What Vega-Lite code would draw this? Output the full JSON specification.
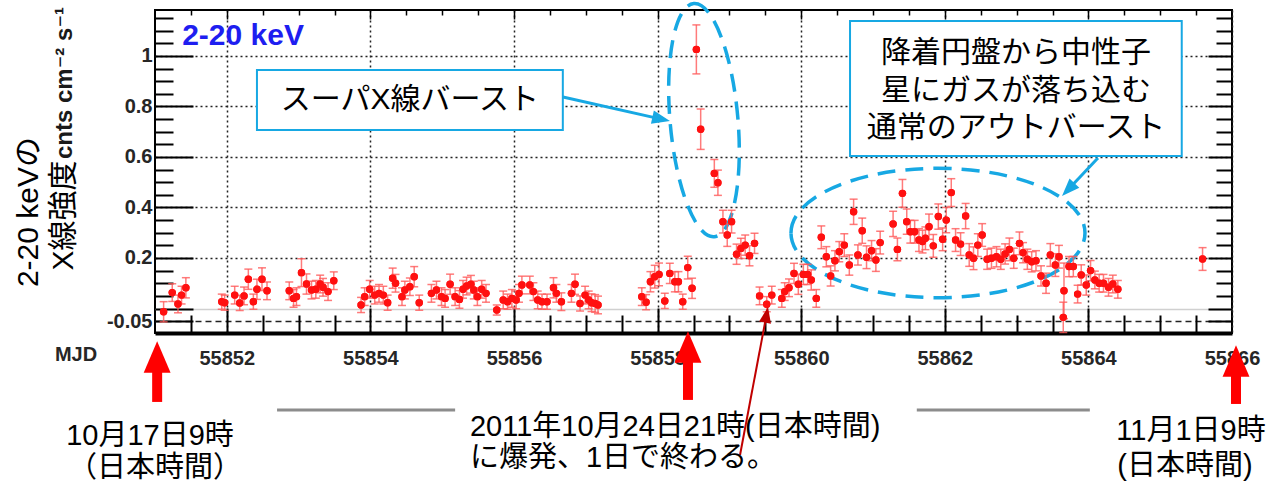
{
"$schema":"https://vega.github.io/schema/vega-lite/v6.json",
"width":1077,"height":323,
"autosize":{"type":"none"},
"padding":{"left":155,"top":10,"right":41,"bottom":150},
"background":"#ffffff",
"config":{"view":{"stroke":"#000000","strokeWidth":2}},
"datasets":{
"pts":[
{"t":55851.12,"f":-0.013,"e":0.04},{"t":55851.24,"f":0.063,"e":0.035},{"t":55851.32,"f":0.018,"e":0.035},{"t":55851.37,"f":0.053,"e":0.035},{"t":55851.43,"f":0.082,"e":0.04},
{"t":55851.93,"f":0.027,"e":0.03},{"t":55851.97,"f":0.023,"e":0.03},{"t":55852.11,"f":0.053,"e":0.035},{"t":55852.18,"f":0.022,"e":0.03},{"t":55852.24,"f":0.05,"e":0.035},{"t":55852.30,"f":0.116,"e":0.04},{"t":55852.37,"f":0.027,"e":0.03},{"t":55852.42,"f":0.076,"e":0.04},{"t":55852.49,"f":0.116,"e":0.045},{"t":55852.56,"f":0.07,"e":0.035},
{"t":55852.87,"f":0.07,"e":0.035},{"t":55852.93,"f":0.04,"e":0.035},{"t":55852.97,"f":0.047,"e":0.035},{"t":55853.04,"f":0.142,"e":0.055},{"t":55853.11,"f":0.097,"e":0.04},{"t":55853.18,"f":0.073,"e":0.035},{"t":55853.24,"f":0.076,"e":0.035},{"t":55853.30,"f":0.097,"e":0.035},{"t":55853.34,"f":0.084,"e":0.035},{"t":55853.41,"f":0.067,"e":0.035},{"t":55853.49,"f":0.11,"e":0.035},
{"t":55853.87,"f":0.014,"e":0.03},{"t":55853.92,"f":0.047,"e":0.035},{"t":55853.99,"f":0.076,"e":0.035},{"t":55854.06,"f":0.053,"e":0.035},{"t":55854.12,"f":0.06,"e":0.035},{"t":55854.18,"f":0.053,"e":0.035},{"t":55854.24,"f":0.023,"e":0.03},{"t":55854.31,"f":0.12,"e":0.04},{"t":55854.35,"f":0.1,"e":0.035},{"t":55854.44,"f":0.047,"e":0.035},{"t":55854.48,"f":0.073,"e":0.035},{"t":55854.55,"f":0.086,"e":0.035},{"t":55854.61,"f":0.126,"e":0.04},{"t":55854.68,"f":0.023,"e":0.03},
{"t":55854.85,"f":0.06,"e":0.035},{"t":55854.92,"f":0.073,"e":0.035},{"t":55854.99,"f":0.047,"e":0.035},{"t":55855.04,"f":0.04,"e":0.035},{"t":55855.11,"f":0.096,"e":0.04},{"t":55855.18,"f":0.047,"e":0.035},{"t":55855.24,"f":0.036,"e":0.035},{"t":55855.29,"f":0.076,"e":0.035},{"t":55855.34,"f":0.089,"e":0.035},{"t":55855.40,"f":0.096,"e":0.035},{"t":55855.44,"f":0.073,"e":0.035},{"t":55855.49,"f":0.047,"e":0.035},{"t":55855.55,"f":0.076,"e":0.035},{"t":55855.61,"f":0.06,"e":0.035},
{"t":55855.76,"f":-0.006,"e":0.02},{"t":55855.85,"f":0.034,"e":0.035},{"t":55855.91,"f":0.027,"e":0.03},{"t":55855.97,"f":0.04,"e":0.035},{"t":55856.03,"f":0.034,"e":0.035},{"t":55856.07,"f":0.06,"e":0.035},{"t":55856.11,"f":0.093,"e":0.035},{"t":55856.22,"f":0.093,"e":0.035},{"t":55856.27,"f":0.067,"e":0.035},{"t":55856.33,"f":0.034,"e":0.035},{"t":55856.39,"f":0.027,"e":0.03},{"t":55856.46,"f":0.027,"e":0.03},{"t":55856.55,"f":0.082,"e":0.04},{"t":55856.59,"f":0.06,"e":0.035},{"t":55856.66,"f":0.027,"e":0.035},{"t":55856.80,"f":0.06,"e":0.035},{"t":55856.85,"f":0.096,"e":0.04},{"t":55856.92,"f":0.02,"e":0.03},{"t":55856.99,"f":0.053,"e":0.035},{"t":55857.04,"f":0.034,"e":0.035},{"t":55857.08,"f":0.023,"e":0.035},{"t":55857.13,"f":0.02,"e":0.035},{"t":55857.17,"f":0.014,"e":0.035},
{"t":55857.78,"f":0.047,"e":0.035},{"t":55857.84,"f":0.025,"e":0.03},{"t":55857.90,"f":0.106,"e":0.04},{"t":55857.96,"f":0.126,"e":0.045},{"t":55858.02,"f":0.135,"e":0.045},{"t":55858.10,"f":0.03,"e":0.03},{"t":55858.17,"f":0.139,"e":0.04},{"t":55858.24,"f":0.106,"e":0.04},{"t":55858.29,"f":0.106,"e":0.04},{"t":55858.35,"f":0.027,"e":0.03},{"t":55858.42,"f":0.162,"e":0.045},{"t":55858.48,"f":0.08,"e":0.04},
{"t":55858.54,"f":1.026,"e":0.097},{"t":55858.60,"f":0.71,"e":0.08},{"t":55858.79,"f":0.535,"e":0.055},{"t":55858.84,"f":0.498,"e":0.05},{"t":55858.91,"f":0.344,"e":0.045},{"t":55858.97,"f":0.291,"e":0.045},{"t":55859.03,"f":0.344,"e":0.045},{"t":55859.10,"f":0.215,"e":0.04},{"t":55859.16,"f":0.238,"e":0.04},{"t":55859.22,"f":0.251,"e":0.04},{"t":55859.28,"f":0.209,"e":0.04},{"t":55859.35,"f":0.258,"e":0.04},
{"t":55859.42,"f":0.05,"e":0.035},{"t":55859.52,"f":0.017,"e":0.03},{"t":55859.59,"f":0.053,"e":0.035},{"t":55859.73,"f":0.04,"e":0.035},{"t":55859.77,"f":0.067,"e":0.035},{"t":55859.83,"f":0.082,"e":0.035},{"t":55859.90,"f":0.139,"e":0.04},{"t":55859.96,"f":0.096,"e":0.04},{"t":55860.03,"f":0.135,"e":0.04},{"t":55860.09,"f":0.135,"e":0.04},{"t":55860.14,"f":0.113,"e":0.04},{"t":55860.21,"f":0.04,"e":0.035},
{"t":55860.28,"f":0.282,"e":0.045},{"t":55860.35,"f":0.205,"e":0.04},{"t":55860.41,"f":0.129,"e":0.04},{"t":55860.47,"f":0.189,"e":0.04},{"t":55860.53,"f":0.225,"e":0.04},{"t":55860.60,"f":0.251,"e":0.045},{"t":55860.67,"f":0.172,"e":0.04},{"t":55860.73,"f":0.383,"e":0.05},{"t":55860.79,"f":0.212,"e":0.04},{"t":55860.85,"f":0.308,"e":0.05},{"t":55860.91,"f":0.203,"e":0.045},{"t":55860.98,"f":0.229,"e":0.04},{"t":55861.04,"f":0.192,"e":0.045},{"t":55861.10,"f":0.261,"e":0.045},{"t":55861.28,"f":0.335,"e":0.05},{"t":55861.34,"f":0.234,"e":0.045},{"t":55861.41,"f":0.456,"e":0.055},{"t":55861.47,"f":0.344,"e":0.05},{"t":55861.52,"f":0.304,"e":0.045},{"t":55861.58,"f":0.304,"e":0.045},{"t":55861.64,"f":0.271,"e":0.045},{"t":55861.69,"f":0.265,"e":0.045},{"t":55861.73,"f":0.278,"e":0.045},{"t":55861.78,"f":0.324,"e":0.05},{"t":55861.84,"f":0.248,"e":0.045},{"t":55861.91,"f":0.364,"e":0.05},{"t":55861.97,"f":0.274,"e":0.045},{"t":55862.02,"f":0.35,"e":0.05},{"t":55862.09,"f":0.459,"e":0.055},{"t":55862.15,"f":0.271,"e":0.045},{"t":55862.22,"f":0.255,"e":0.045},{"t":55862.29,"f":0.366,"e":0.05},{"t":55862.34,"f":0.212,"e":0.045},{"t":55862.40,"f":0.199,"e":0.045},{"t":55862.46,"f":0.251,"e":0.045},{"t":55862.52,"f":0.291,"e":0.045},{"t":55862.59,"f":0.195,"e":0.04},{"t":55862.65,"f":0.199,"e":0.04},{"t":55862.72,"f":0.205,"e":0.04},{"t":55862.78,"f":0.195,"e":0.04},{"t":55862.84,"f":0.216,"e":0.04},{"t":55862.90,"f":0.234,"e":0.045},{"t":55862.96,"f":0.199,"e":0.04},{"t":55863.04,"f":0.258,"e":0.045},{"t":55863.09,"f":0.221,"e":0.04},{"t":55863.15,"f":0.195,"e":0.04},{"t":55863.21,"f":0.185,"e":0.04},{"t":55863.27,"f":0.189,"e":0.04},{"t":55863.34,"f":0.129,"e":0.04},{"t":55863.41,"f":0.1,"e":0.04},{"t":55863.47,"f":0.212,"e":0.045},{"t":55863.54,"f":0.172,"e":0.045},{"t":55863.59,"f":0.205,"e":0.045},{"t":55863.65,"f":-0.035,"e":0.06},{"t":55863.66,"f":0.07,"e":0.11},{"t":55863.73,"f":0.166,"e":0.04},{"t":55863.79,"f":0.166,"e":0.04},{"t":55863.85,"f":0.057,"e":0.035},{"t":55863.90,"f":0.133,"e":0.04},{"t":55863.97,"f":0.093,"e":0.04},{"t":55864.03,"f":0.15,"e":0.04},{"t":55864.09,"f":0.113,"e":0.035},{"t":55864.15,"f":0.1,"e":0.035},{"t":55864.21,"f":0.1,"e":0.035},{"t":55864.28,"f":0.084,"e":0.035},{"t":55864.34,"f":0.097,"e":0.035},{"t":55864.41,"f":0.076,"e":0.035},
{"t":55865.59,"f":0.196,"e":0.045}
],
"boxText":[{"t":55854.55,"f":0.826,"label":"スーパX線バースト"},{"t":55862.99,"f":1.012,"label":"降着円盤から中性子"},{"t":55862.99,"f":0.861,"label":"星にガスが落ち込む"},{"t":55862.99,"f":0.715,"label":"通常のアウトバースト"}],
"bottomText":[{"t":55850.93,"f":-0.503,"label":"10月17日9時"},{"t":55851.0,"f":-0.63,"label":"（日本時間）"},{"t":55865.429,"f":-0.485,"label":"11月1日9時"},{"t":55865.345,"f":-0.622,"label":"(日本時間)"}],
"bottomLeft":[{"t":55855.387,"f":-0.469,"label":"2011年10月24日21時(日本時間)"},{"t":55855.387,"f":-0.592,"label":"に爆発、1日で終わる。"}]
},
"layer":[
{"data":{"values":[{"t1":55852.42,"t2":55856.68,"f1":0.944,"f2":0.707},{"t1":55860.68,"t2":55865.30,"f1":1.138,"f2":0.604}]},"mark":{"type":"rect","fill":"#ffffff","stroke":"#17a8e3","strokeWidth":2},
 "encoding":{
  "x":{"field":"t1","type":"quantitative","scale":{"domain":[55851,55866],"nice":false,"zero":false},
   "axis":{"orient":"top","title":null,"labels":false,"grid":false,"domain":false,"ticks":true,
    "values":[55852,55854,55856,55858,55860,55862,55864],
    "tickColor":"#000000","tickWidth":1.5,"tickSize":9,"offset":-9}},
  "x2":{"field":"t2"},
  "y":{"field":"f1","type":"quantitative","scale":{"domain":[-0.097,1.182],"nice":false,"zero":false},
   "axis":{"orient":"right","title":null,"labels":false,"grid":false,"domain":false,"ticks":true,
    "values":[-0.05,0,0.2,0.4,0.6,0.8,1],
    "tickColor":"#000000","tickWidth":2,"tickSize":24,"offset":-24}},
  "y2":{"field":"f2"}}},
{"data":{"name":"pts"},"mark":{"type":"circle","size":55,"color":"#ff1010","opacity":1},
 "encoding":{
  "x":{"field":"t","type":"quantitative","scale":{"domain":[55851,55866],"nice":false,"zero":false},
   "axis":{"orient":"bottom","title":null,"ticks":false,
    "values":[55852,55854,55856,55858,55860,55862,55864,55866],"format":"d",
    "labelFont":"Liberation Sans","labelFontWeight":"bold","labelFontSize":20,"labelColor":"#262626",
    "labelPadding":15,"labelFlush":false,"labelOverlap":false,
    "grid":true,"gridColor":"#222222","gridDash":[2,3],"gridWidth":1.5,
    "domain":true,"domainColor":"#000000","domainWidth":4}},
  "y":{"field":"f","type":"quantitative","scale":{"domain":[-0.097,1.182],"nice":false,"zero":false},
   "axis":{"orient":"left","title":null,"ticks":false,
    "values":[-0.05,0,0.2,0.4,0.6,0.8,1],
    "labelExpr":"datum.value == 0 ? '' : (datum.value < 0 ? '-0.05' : format(datum.value, '.1~f'))",
    "labelFont":"Liberation Sans","labelFontWeight":"bold","labelFontSize":20,"labelColor":"#262626",
    "labelPadding":3,"labelOverlap":false,"labelFlush":false,
    "grid":true,"gridWidth":1.5,
    "gridColor":{"condition":{"test":"datum.value == 0","value":"#d0d0d0"},"value":"#222222"},
    "gridDash":{"condition":[{"test":"datum.value < 0","value":[6,4]},{"test":"datum.value == 0","value":[1,0]}],"value":[2,3]},
    "domain":false}}}},
{"data":{"values":[{"t":55858.646,"f":0.746}]},
 "mark":{"type":"point","shape":"M0,-1A0.29,1,0,1,1,0,1A0.29,1,0,1,1,0,-1Z","size":54756,"angle":-5,"filled":false,"color":"#17a8e3","strokeWidth":3.5,"strokeDash":[18,10],"opacity":1},
 "encoding":{"x":{"field":"t","type":"quantitative","scale":{"domain":[55851,55866],"nice":false,"zero":false},
   "axis":{"orient":"bottom","title":null,"labels":false,"grid":false,"domain":false,"ticks":true,
    "values":[55852,55854,55856,55858,55860,55862,55864],
    "tickColor":"#000000","tickWidth":2,"tickSize":25,"offset":-25}},
  "y":{"field":"f","type":"quantitative","scale":{"domain":[-0.097,1.182],"nice":false,"zero":false},
   "axis":{"orient":"left","title":null,"labels":false,"grid":false,"domain":false,"ticks":true,
    "values":[-0.05,0,0.2,0.4,0.6,0.8,1],
    "tickColor":"#000000","tickWidth":2,"tickSize":38,"offset":-38}}}},
{"data":{"values":[{"t":55861.905,"f":0.299}]},
 "mark":{"type":"point","shape":"M-1,0A1,0.44,0,1,1,1,0A1,0.44,0,1,1,-1,0Z","size":86436,"filled":false,"color":"#17a8e3","strokeWidth":3.5,"strokeDash":[18,10],"opacity":1},
 "encoding":{"x":{"field":"t","type":"quantitative","scale":{"domain":[55851,55866],"nice":false,"zero":false},
   "axis":{"orient":"bottom","title":null,"labels":false,"grid":false,"domain":false,"ticks":true,
    "values":[55851.5,55852.5,55853,55853.5,55854.5,55855,55855.5,55856.5,55857,55857.5,55858.5,55859,55859.5,55860.5,55861,55861.5,55862.5,55863,55863.5,55864.5,55865,55865.5],
    "tickColor":"#000000","tickWidth":2,"tickSize":18,"offset":-18}},
  "y":{"field":"f","type":"quantitative","scale":{"domain":[-0.097,1.182],"nice":false,"zero":false},
   "axis":{"orient":"left","title":null,"labels":false,"grid":false,"domain":false,"ticks":true,
    "values":[0.05,0.1,0.15,0.25,0.3,0.35,0.45,0.5,0.55,0.65,0.7,0.75,0.85,0.9,0.95,1.05,1.1,1.15],
    "tickColor":"#000000","tickWidth":2,"tickSize":18,"offset":-18}}}},
{"data":{"values":[{"t1":55856.682,"f1":0.8375,"t2":55858.05,"f2":0.75},{"t1":55864.133,"f1":0.596,"t2":55863.719,"f2":0.471}]},
 "mark":{"type":"rule","color":"#17a8e3","strokeWidth":3},
 "encoding":{"x":{"field":"t1","type":"quantitative","scale":{"domain":[55851,55866],"nice":false,"zero":false},
   "axis":{"orient":"top","title":null,"labels":false,"grid":false,"domain":false,"ticks":true,
    "values":[55851.5,55852.5,55853,55853.5,55854.5,55855,55855.5,55856.5,55857,55857.5,55858.5,55859,55859.5,55860.5,55861,55861.5,55862.5,55863,55863.5,55864.5,55865,55865.5],
    "tickColor":"#000000","tickWidth":1.5,"tickSize":5,"offset":-5}},
  "x2":{"field":"t2"},
  "y":{"field":"f1","type":"quantitative","scale":{"domain":[-0.097,1.182],"nice":false,"zero":false},
   "axis":{"orient":"right","title":null,"labels":false,"grid":false,"domain":false,"ticks":true,
    "values":[0.05,0.1,0.15,0.25,0.3,0.35,0.45,0.5,0.55,0.65,0.7,0.75,0.85,0.9,0.95,1.05,1.1,1.15],
    "tickColor":"#000000","tickWidth":2,"tickSize":16,"offset":-16}},
  "y2":{"field":"f2"}}},
{"data":{"name":"pts"},"mark":{"type":"errorbar","ticks":true,"size":8,"thickness":1.5,"color":"#ff5a5a","opacity":0.8},
 "encoding":{
  "x":{"field":"t","type":"quantitative","scale":{"domain":[55851,55866],"nice":false,"zero":false},"axis":null},
  "y":{"field":"f","type":"quantitative","scale":{"domain":[-0.097,1.182],"nice":false,"zero":false},"axis":null},
  "yError":{"field":"e"}}},
{"data":{"name":"pts"},"mark":{"type":"circle","size":55,"color":"#ff1010","opacity":1},
 "encoding":{
  "x":{"field":"t","type":"quantitative","scale":{"domain":[55851,55866],"nice":false,"zero":false},"axis":null},
  "y":{"field":"f","type":"quantitative","scale":{"domain":[-0.097,1.182],"nice":false,"zero":false},"axis":null}}},
{"data":{"values":[{"t":55858.05,"f":0.75}]},
 "mark":{"type":"point","shape":"M1,0L-1,-0.75L-1,0.75Z","size":324,"angle":12.4,"filled":true,"color":"#17a8e3","opacity":1},
 "encoding":{"x":{"field":"t","type":"quantitative","scale":{"domain":[55851,55866],"nice":false,"zero":false},"axis":null},
  "y":{"field":"f","type":"quantitative","scale":{"domain":[-0.097,1.182],"nice":false,"zero":false},"axis":null}}},
{"data":{"values":[{"t":55863.719,"f":0.471}]},
 "mark":{"type":"point","shape":"M1,0L-1,-0.75L-1,0.75Z","size":324,"angle":133.5,"filled":true,"color":"#17a8e3","opacity":1},
 "encoding":{"x":{"field":"t","type":"quantitative","scale":{"domain":[55851,55866],"nice":false,"zero":false},"axis":null},
  "y":{"field":"f","type":"quantitative","scale":{"domain":[-0.097,1.182],"nice":false,"zero":false},"axis":null}}},
{"data":{"values":[{"t1":55859.148,"f1":-0.58,"t2":55859.517,"f2":-0.025}]},
 "mark":{"type":"rule","color":"#c00000","strokeWidth":2},
 "encoding":{"x":{"field":"t1","type":"quantitative","scale":{"domain":[55851,55866],"nice":false,"zero":false},"axis":null},"x2":{"field":"t2"},
  "y":{"field":"f1","type":"quantitative","scale":{"domain":[-0.097,1.182],"nice":false,"zero":false},"axis":null},"y2":{"field":"f2"}}},
{"data":{"values":[{"t":55859.517,"f":-0.025}]},
 "mark":{"type":"point","shape":"M1,0L-1,-0.75L-1,0.75Z","size":256,"angle":-79.3,"filled":true,"color":"#c00000","opacity":1},
 "encoding":{"x":{"field":"t","type":"quantitative","scale":{"domain":[55851,55866],"nice":false,"zero":false},"axis":null},
  "y":{"field":"f","type":"quantitative","scale":{"domain":[-0.097,1.182],"nice":false,"zero":false},"axis":null}}},
{"data":{"values":[{"t":55851.03,"f1":-0.2435,"f2":-0.37},{"t":55858.423,"f1":-0.204,"f2":-0.362},{"t":55866.056,"f1":-0.259,"f2":-0.378}]},
 "mark":{"type":"rule","color":"#ff0000","strokeWidth":10},
 "encoding":{"x":{"field":"t","type":"quantitative","scale":{"domain":[55851,55866],"nice":false,"zero":false},"axis":null},
  "y":{"field":"f1","type":"quantitative","scale":{"domain":[-0.097,1.182],"nice":false,"zero":false},"axis":null},"y2":{"field":"f2"}}},
{"data":{"values":[{"t":55851.03,"f":-0.192},{"t":55858.423,"f":-0.1525},{"t":55866.056,"f":-0.208}]},
 "mark":{"type":"point","shape":"M0,-1L-0.85,1L0.85,1Z","size":1000,"filled":true,"color":"#ff0000","opacity":1},
 "encoding":{"x":{"field":"t","type":"quantitative","scale":{"domain":[55851,55866],"nice":false,"zero":false},"axis":null},
  "y":{"field":"f","type":"quantitative","scale":{"domain":[-0.097,1.182],"nice":false,"zero":false},"axis":null}}},
{"data":{"values":[{"t1":55852.70,"t2":55855.18,"f":-0.402},{"t1":55861.61,"t2":55864.02,"f":-0.402}]},
 "mark":{"type":"rule","color":"#8c8c8c","strokeWidth":3},
 "encoding":{"x":{"field":"t1","type":"quantitative","scale":{"domain":[55851,55866],"nice":false,"zero":false},"axis":null},"x2":{"field":"t2"},
  "y":{"field":"f","type":"quantitative","scale":{"domain":[-0.097,1.182],"nice":false,"zero":false},"axis":null}}},
{"data":{"values":[{"t":55852.226,"f":1.079,"label":"2-20 keV"}]},
 "mark":{"type":"text","font":"Liberation Sans","fontWeight":"bold","fontSize":30,"color":"#1e1ef0","align":"center","baseline":"middle"},
 "encoding":{"x":{"field":"t","type":"quantitative","scale":{"domain":[55851,55866],"nice":false,"zero":false},"axis":null},
  "y":{"field":"f","type":"quantitative","scale":{"domain":[-0.097,1.182],"nice":false,"zero":false},"axis":null},"text":{"field":"label"}}},
{"data":{"values":[{"t":55849.245,"f":0.382,"label":"2-20 keVの"},{"t":55849.733,"f":0.368,"label":"X線強度"}]},
 "mark":{"type":"text","font":"Liberation Sans, Noto Sans CJK JP","fontSize":30,"color":"#000000","align":"center","baseline":"middle","angle":270},
 "encoding":{"x":{"field":"t","type":"quantitative","scale":{"domain":[55851,55866],"nice":false,"zero":false},"axis":null},
  "y":{"field":"f","type":"quantitative","scale":{"domain":[-0.097,1.182],"nice":false,"zero":false},"axis":null},"text":{"field":"label"}}},
{"data":{"values":[{"t":55849.74,"f":0.893,"label":"cnts cm⁻² s⁻¹"}]},
 "mark":{"type":"text","font":"Liberation Sans, DejaVu Sans","fontWeight":"bold","fontSize":24,"color":"#1a1a1a","align":"center","baseline":"middle","angle":270},
 "encoding":{"x":{"field":"t","type":"quantitative","scale":{"domain":[55851,55866],"nice":false,"zero":false},"axis":null},
  "y":{"field":"f","type":"quantitative","scale":{"domain":[-0.097,1.182],"nice":false,"zero":false},"axis":null},"text":{"field":"label"}}},
{"data":{"values":[{"t":55849.9,"f":-0.184,"label":"MJD"}]},
 "mark":{"type":"text","font":"Liberation Sans","fontWeight":"bold","fontSize":20,"color":"#262626","align":"center","baseline":"middle"},
 "encoding":{"x":{"field":"t","type":"quantitative","scale":{"domain":[55851,55866],"nice":false,"zero":false},"axis":null},
  "y":{"field":"f","type":"quantitative","scale":{"domain":[-0.097,1.182],"nice":false,"zero":false},"axis":null},"text":{"field":"label"}}},
{"data":{"name":"boxText"},
 "mark":{"type":"text","font":"Liberation Sans, Noto Sans CJK JP","fontSize":30,"color":"#000000","align":"center","baseline":"middle"},
 "encoding":{"x":{"field":"t","type":"quantitative","scale":{"domain":[55851,55866],"nice":false,"zero":false},"axis":null},
  "y":{"field":"f","type":"quantitative","scale":{"domain":[-0.097,1.182],"nice":false,"zero":false},"axis":null},"text":{"field":"label"}}},
{"data":{"name":"bottomText"},
 "mark":{"type":"text","font":"Liberation Sans, Noto Sans CJK JP","fontSize":29,"color":"#000000","align":"center","baseline":"middle"},
 "encoding":{"x":{"field":"t","type":"quantitative","scale":{"domain":[55851,55866],"nice":false,"zero":false},"axis":null},
  "y":{"field":"f","type":"quantitative","scale":{"domain":[-0.097,1.182],"nice":false,"zero":false},"axis":null},"text":{"field":"label"}}},
{"data":{"name":"bottomLeft"},
 "mark":{"type":"text","font":"Liberation Sans, Noto Sans CJK JP","fontSize":29,"color":"#000000","align":"left","baseline":"middle"},
 "encoding":{"x":{"field":"t","type":"quantitative","scale":{"domain":[55851,55866],"nice":false,"zero":false},"axis":null},
  "y":{"field":"f","type":"quantitative","scale":{"domain":[-0.097,1.182],"nice":false,"zero":false},"axis":null},"text":{"field":"label"}}}
],
"resolve":{"axis":{"x":"independent","y":"independent"}}
}
